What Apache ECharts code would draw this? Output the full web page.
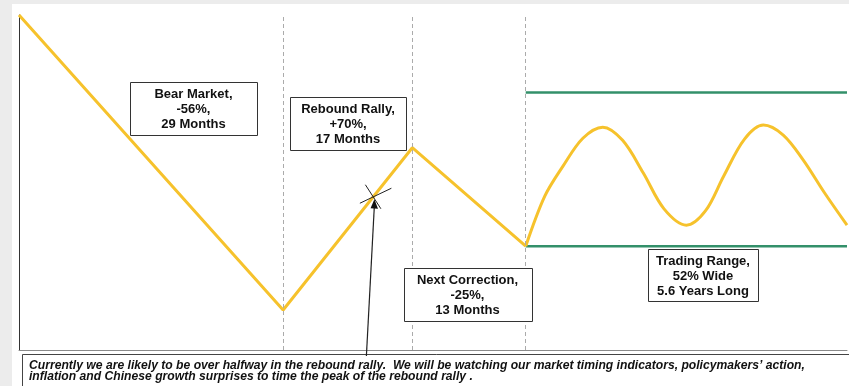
<!DOCTYPE html>
<html>
<head>
<meta charset="utf-8">
<script src="https://cdn.jsdelivr.net/npm/echarts@6/dist/echarts.min.js"></script>
<style>
  html, body { margin: 0; padding: 0; background: #ececec; }
  #chart { width: 849px; height: 386px; }
</style>
</head>
<body>
<div id="chart"></div>
<script>
// Market cycle path: start, bear-market low, rebound peak, correction low
const cycleT = [0, 31.9, 47.5, 61.2];
const cycleLevel = [100, 44, 74.8, 56.1];

// Oscillation inside the trading range
const rangeT = [61.2, 63.5, 65.7, 68.1, 70.5, 72.9, 75.4, 77.9, 80.6,
                82.9, 85.1, 87.6, 89.9, 92.3, 94.7, 97.3, 100];
const rangeLevel = [56.1, 65.6, 71.3, 76.6, 78.7, 76.2, 70.0, 63.2, 60.1,
                    62.8, 69.4, 76.4, 79.1, 77.2, 72.5, 66.2, 60.1];

// Trading range bounds
const rangeStart = 61.2;
const rangeEnd = 100;
const rangeLow = 56.1;
const rangeHigh = 85.3;

// Phase separators
const phaseBreaks = [31.9, 47.5, 61.2];

// Current position on the rebound leg
const currentPoint = [42.8, 65.4];

// Phase annotations
const phaseLabels = [
  'Bear Market,\n-56%,\n29 Months',
  'Rebound Rally,\n+70%,\n17 Months',
  'Next Correction,\n-25%,\n13 Months',
  'Trading Range,\n52% Wide\n5.6 Years Long'
];

const noteLines = [
  'Currently we are likely to be over halfway in the rebound rally.  We will be watching our market timing indicators, policymakers\u2019 action,',
  'inflation and Chinese growth surprises to time the peak of the rebound rally .'
];

const FONT = '"Liberation Sans", Arial, sans-serif';
const YELLOW = '#f6c22c';
const GREEN = '#33906a';

const chart = echarts.init(document.getElementById('chart'), null, { renderer: 'canvas' });

const option = {
  backgroundColor: '#ececec',
  animation: false,
  grid: { left: 19, right: 2, top: 15, bottom: 36 },
  xAxis: {
    type: 'value', min: 0, max: 100,
    axisLine: { show: true, onZero: false, lineStyle: { color: '#8a8a8a', width: 1 } },
    axisTick: { show: false }, axisLabel: { show: false }, splitLine: { show: false }
  },
  yAxis: {
    type: 'value', min: 36.4, max: 100,
    axisLine: { show: true, onZero: false, lineStyle: { color: '#333', width: 1 } },
    axisTick: { show: false }, axisLabel: { show: false }, splitLine: { show: false }
  },
  series: [
    {
      type: 'line', name: 'range-low', silent: true, symbol: 'none', z: 3,
      data: [[rangeStart, rangeLow], [rangeEnd, rangeLow]],
      lineStyle: { color: GREEN, width: 2.5 }
    },
    {
      type: 'line', name: 'range-high', silent: true, symbol: 'none', z: 3,
      data: [[rangeStart, rangeHigh], [rangeEnd, rangeHigh]],
      lineStyle: { color: GREEN, width: 2.5 }
    },
    {
      type: 'line', name: 'cycle', silent: true, symbol: 'none', z: 4,
      data: cycleT.map((t, i) => [t, cycleLevel[i]]),
      lineStyle: { color: YELLOW, width: 3 },
      markLine: {
        silent: true, symbol: 'none', label: { show: false },
        lineStyle: { color: '#ababab', width: 1, type: [4, 3] },
        data: phaseBreaks.map(t => ({ xAxis: t }))
      }
    },
    {
      type: 'line', name: 'range', silent: true, symbol: 'none', z: 4,
      smooth: 0.33,
      data: rangeT.map((t, i) => [t, rangeLevel[i]]),
      lineStyle: { color: YELLOW, width: 3 }
    }
  ]
};

chart.setOption(option);

// Annotation boxes (pixel layout)
const boxLayout = [
  { cx: 193.5, cy: 108, w: 127, h: 53 },
  { cx: 348, cy: 123, w: 116, h: 53 },
  { cx: 467.5, cy: 294.5, w: 128, h: 53 },
  { cx: 703, cy: 275, w: 110, h: 52 }
];

const graphics = [
  { type: 'rect', z: -10, silent: true, shape: { x: 12, y: 4, width: 837, height: 382 }, style: { fill: '#ffffff' } }
];

phaseLabels.forEach((txt, i) => {
  const b = boxLayout[i];
  graphics.push({
    type: 'rect', z: 50, silent: true,
    shape: { x: Math.round(b.cx - b.w / 2) + 0.5, y: Math.round(b.cy - b.h / 2) + 0.5, width: b.w, height: b.h },
    style: { fill: '#ffffff', stroke: '#333', lineWidth: 1 }
  });
  graphics.push({
    type: 'text', z: 51, silent: true, x: b.cx, y: b.cy + 1,
    style: {
      text: txt, fill: '#111', font: 'bold 13px ' + FONT,
      textAlign: 'center', textVerticalAlign: 'middle', lineHeight: 15
    }
  });
});

// Bottom commentary box
graphics.push({
  type: 'rect', z: 50, silent: true,
  shape: { x: 22.5, y: 354.5, width: 840, height: 40 },
  style: { fill: '#ffffff', stroke: '#444', lineWidth: 1 }
});
noteLines.forEach((line, i) => {
  graphics.push({
    type: 'text', z: 51, silent: true, x: 29, y: 366 + i * 11,
    style: {
      text: line, fill: '#111', font: 'italic bold 12.15px ' + FONT,
      textAlign: 'left', textVerticalAlign: 'middle'
    }
  });
});

// Marker for the current position plus pointer arrow
const p = chart.convertToPixel({ gridIndex: 0 }, currentPoint);
const cx = p[0], cy = p[1];
graphics.push({
  type: 'line', z: 60, silent: true,
  shape: { x1: cx - 8, y1: cy - 12.5, x2: cx + 7.5, y2: cy + 11.5 },
  style: { stroke: '#222', lineWidth: 1 }
});
graphics.push({
  type: 'line', z: 60, silent: true,
  shape: { x1: cx - 13.5, y1: cy + 6, x2: cx + 18, y2: cy - 9 },
  style: { stroke: '#222', lineWidth: 1 }
});
const tipX = cx + 1, tipY = cy + 2;
const tailX = cx - 7, tailY = 356;
graphics.push({
  type: 'line', z: 60, silent: true,
  shape: { x1: tailX, y1: tailY, x2: tipX, y2: tipY + 6 },
  style: { stroke: '#222', lineWidth: 1.2 }
});
graphics.push({
  type: 'polygon', z: 60, silent: true,
  shape: { points: [[tipX, tipY], [tipX - 3.8, tipY + 9], [tipX + 3.6, tipY + 9.4]] },
  style: { fill: '#111' }
});

chart.setOption({ graphic: graphics });
</script>
</body>
</html>
